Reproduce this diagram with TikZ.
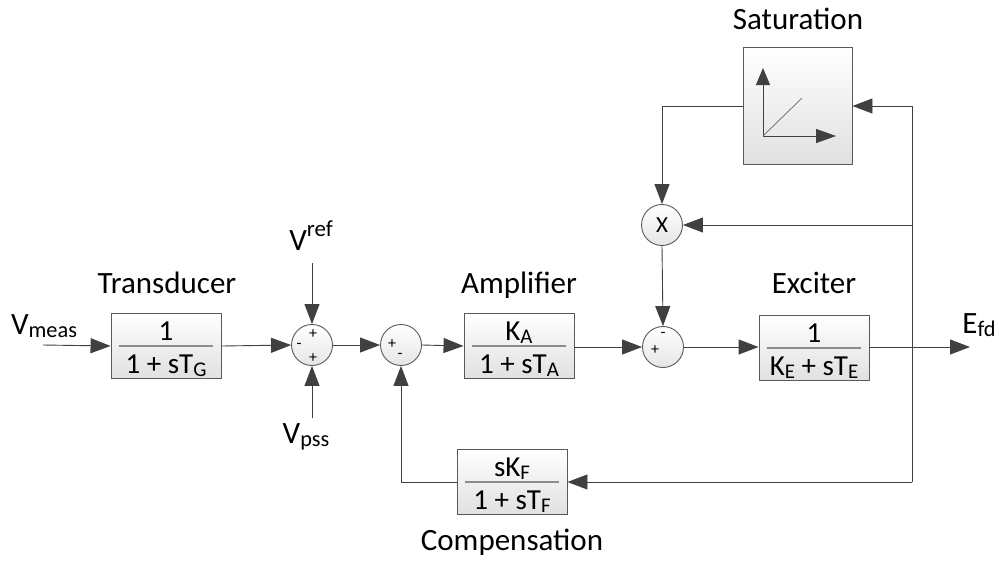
\documentclass[tikz,border=0pt]{standalone}
\usepackage{fontspec}
\setmainfont{Carlito}
\usetikzlibrary{arrows.meta}
\newcommand{\lo}[1]{\raisebox{-0.12em}{\scalebox{0.72}{#1}}}
\newcommand{\hi}[1]{\raisebox{0.42em}{\scalebox{0.74}{#1}}}
\tikzset{
  lbl/.style={font=\fontsize{31}{34}\selectfont, inner sep=0pt, anchor=base},
  frac/.style={font=\fontsize{29}{32}\selectfont, inner sep=0pt, anchor=base},
  blk/.style={draw=black!65, line width=0.9pt, top color=white, bottom color=black!12, minimum width=110pt, minimum height=65pt, inner sep=0pt},
  sumc/.style={circle, draw=black!65, line width=0.9pt, top color=white, bottom color=black!10, minimum size=41pt, inner sep=0pt},
  sgn/.style={font=\fontsize{16}{16}\selectfont, inner sep=0pt},
  conn/.style={draw=black!75, line width=0.9pt, -{Triangle[length=20pt,width=15pt]}},
  wire/.style={draw=black!75, line width=0.9pt},
  barline/.style={draw=black!45, line width=1.1pt}
}
\newcommand{\myblock}[5]{%
  \node[blk] (#1) at (#2) {};
  \draw[barline] ([xshift=8pt]#1.west) -- ([xshift=-8pt]#1.east);
  \node[frac] (#1n) at ([yshift=6pt]#1.center) {#4};
  \node[frac] (#1d) at ([yshift=-27pt]#1.center) {#5};
}
\begin{document}
\begin{tikzpicture}[x=1pt,y=-1pt]
\useasboundingbox (0,0) rectangle (999,560);

% blocks
\myblock{tr}{166,346}{}{1}{1 + sT\lo{G}}
\myblock{amp}{519,346}{}{K\lo{A}}{1 + sT\lo{A}}
\myblock{exc}{814,348}{}{1}{K\lo{E} + sT\lo{E}}
\myblock{cmp}{512,482}{}{sK\lo{F}}{1 + sT\lo{F}}

% labels
\node[lbl] (ltr) at (167,293) {Transducer};
\node[lbl] (lamp) at (519,293) {Amplifier};
\node[lbl] (lexc) at (814,293) {Exciter};
\node[lbl] (lcmp) at (512,550) {Compensation};
\node[lbl] (lsat) at (798,29) {Saturation};

% saturation block
\node[blk, minimum width=109pt, minimum height=117pt] (sat) at (797.5,105.5) {};
\draw[draw=black!75, line width=0.9pt, -{Triangle[length=17pt,width=14pt]}] (763,136) coordinate (so) -- (763,68) coordinate (sy);
\draw[draw=black!75, line width=0.9pt, -{Triangle[length=20pt,width=14pt]}] (so) -- (836,136) coordinate (sx);
\draw[draw=black!60, line width=0.7pt] (so) -- (802,98) coordinate (sd);

% junctions
\node[sumc] (s1) at (312,345) {};
\node[sgn] (s1a) at (299,346) {-};
\node[sgn] (s1b) at (313,334) {+};
\node[sgn] (s1c) at (313,358) {+};

\node[sumc] (s2) at (401,345) {};
\node[sgn] (s2a) at (392,344) {+};
\node[sgn] (s2b) at (400,356) {-};

\node[sumc] (s3) at (663,347) {};
\node[sgn] (s3a) at (655,350) {+};
\node[sgn] (s3b) at (663,335) {-};

\node[sumc, font=\fontsize{23}{23}\selectfont] (mx) at (662,225) {X};

% text inputs / outputs
\node[lbl] (vmeas) at (44,334) {V\lo{meas}};
\node[lbl] (vref) at (311,250) {V\hi{ref}};
\node[lbl] (vpss) at (306,443) {V\lo{pss}};
\node[lbl] (efd) at (979,333) {E\lo{fd}};

\coordinate (inL) at (43,345);
\coordinate (refT) at (312,263);
\coordinate (pssB) at (312,418);
\coordinate (outR) at (970,347);
\coordinate (fbTop) at (912,106);
\coordinate (fbX) at (912,225);
\coordinate (fbBot) at (912,482);
\coordinate (satL) at (662,106);

% connectors
\draw[conn] (inL) -- (tr.west);
\draw[conn] (tr.east) -- (s1.west);
\draw[conn] (refT) -- (s1.north);
\draw[conn] (pssB) -- (s1.south);
\draw[conn] (s1.east) -- (s2.west);
\draw[conn] (s2.east) -- (amp.west);
\draw[conn] (amp.east |- s3.west) -- (s3.west);
\draw[conn] (s3.east) -- (exc.west |- s3.east);
\draw[conn] (exc.east |- outR) -- (outR);
\draw[wire] (fbTop) -- (fbBot);
\draw[conn] (fbTop) -- (sat.east |- fbTop);
\draw[conn] (fbX) -- (mx.east);
\draw[conn] (fbBot) -- (cmp.east);
\draw[conn] (cmp.west) -| (s2.south);
\draw[conn] (sat.west |- satL) -- (satL) -- (mx.north);
\draw[conn] (mx.south) -- (s3.north);
\end{tikzpicture}
\end{document}
